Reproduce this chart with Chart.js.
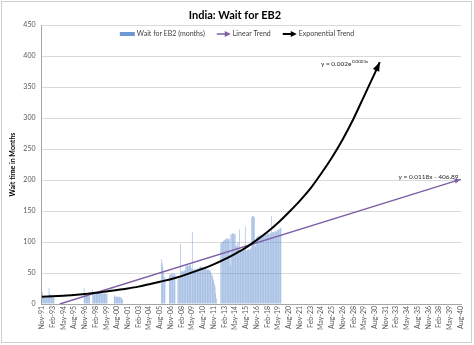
<!DOCTYPE html>
<html><head><meta charset="utf-8">
<script src="https://cdn.jsdelivr.net/npm/chart.js@4/dist/chart.umd.min.js"></script>
<style>html,body{margin:0;padding:0;background:#fff}#wrap{width:474px;height:345px;position:relative}</style>
</head><body><div id="wrap"><canvas id="c" width="474" height="345"></canvas></div>
<script>
// ---------- DATA ----------
const firstMonth = 'Nov-91';
const lastMonth = 'Aug-40';
const tickLabels = ['Nov-91','Feb-93','May-94','Aug-95','Nov-96','Feb-98','May-99','Aug-00','Nov-01','Feb-03',
  'May-04','Aug-05','Nov-06','Feb-08','May-09','Aug-10','Nov-11','Feb-13','May-14','Aug-15',
  'Nov-16','Feb-18','May-19','Aug-20','Nov-21','Feb-23','May-24','Aug-25','Nov-26','Feb-28',
  'May-29','Aug-30','Nov-31','Feb-33','May-34','Aug-35','Nov-36','Feb-38','May-39','Aug-40'];

// Monthly wait (months), starting Nov-91; null = no wait (current)
const waitMonths = [
  21,19,11,10,11,10,10,11,12,11,26,16,15,14,14,13,12,10,
  null,null,null,null,null,null,null,null,null,null,
  null,null,null,null,null,null,null,null,null,null,
  null,null,null,null,null,null,null,null,null,null,
  null,null,null,null,null,null,null,null,null,null,
  null,
  26,15,15,14,14,15,14,13,12,
  null,null,null,
  23,
  18,18,19,18,18,17,18,18,17,18,18,17,17,18,17,17,17,16,17,16,
  null,null,null,null,null,null,null,null,null,
  14,12,12,11,12,12,11,11,12,11,10,8,7,
  null,null,null,null,null,null,null,null,null,null,
  null,null,null,null,null,null,null,null,null,null,
  null,null,null,null,null,null,null,null,null,null,
  null,null,null,null,null,null,null,null,null,null,
  null,null,null,null,null,null,null,null,null,null,
  null,null,null,
  72,66,60,50,44,41,
  null,null,null,null,null,
  46,48,47,49,48,50,47,49,48,
  null,null,null,
  40,41,42,43,97,
  53,54,52,53,54,55,
  60,62,63,62,61,63,64,62,
  58,116,
  56,55,57,56,55,57,56,58,57,59,
  60,61,60,59,60,
  58,57,58,56,57,56,55,56,55,54,
  52,49,46,42,38,33,28,17,9,
  null,null,null,null,null,
  98,99,100,101,102,103,104,105,106,
  105,106,104,105,63,
  112,113,114,113,114,112,113,
  94,93,98,100,90,
  120,
  85,84,86,85,87,86,88,
  125,
  87,86,88,87,89,88,87,90,
  140,142,141,142,140,
  93,98,
  108,109,109,110,110,111,110,111,112,111,112,112,113,112,113,114,113,114,113,114,115,
  142,116,
  115,116,117,116,118,117,119,118,120,121,122,123
];

// Exponential trend
const expTrendMonths = ['Nov-91','Feb-93','May-94','Aug-95','Nov-96','Feb-98','May-99','Aug-00','Nov-01','Feb-03',
  'May-04','Aug-05','Nov-06','Feb-08','May-09','Aug-10','Nov-11','Feb-13','May-14','Aug-15',
  'Nov-16','Feb-18','May-19','Aug-20','Nov-21','Feb-23','May-24','Aug-25','Nov-26','Feb-28',
  'May-29','Aug-30','Mar-31'];
const expTrendValues = [11.5,12.5,13.5,14.5,16,18,20,22.5,25,28,
  32,36,40,45,51,57,64,72,81,91,
  103,116,131,148,166,186,210,236,265,298,
  335,372,390];

// Linear trend
const linTrendMonths = ['Dec-93','Aug-40'];
const linTrendValues = [0, 201];

const expEquation = ['y = 0.002e', '0.0003x'];
const linEquation = 'y = 0.0118x - 406.89';

// ---------- BUILD ----------
const monNames = ['Jan','Feb','Mar','Apr','May','Jun','Jul','Aug','Sep','Oct','Nov','Dec'];
function parseLab(l){ const [m,y]=l.split('-'); return {m:monNames.indexOf(m), y:2000+ +y - (+y>50?100:0)}; }
const categories = [];
(function(){ let s=parseLab(firstMonth), e=parseLab(lastMonth); let y=s.y, m=s.m;
  while (y<e.y || (y===e.y && m<=e.m)) { categories.push(monNames[m]+'-'+String(y%100).padStart(2,'0')); m++; if(m>11){m=0;y++;} } })();
const tickSet = new Set(tickLabels);
const barData = categories.map((c,i)=> i<waitMonths.length ? waitMonths[i] : null);
function sparse(months, vals){ const a = categories.map(()=>null); months.forEach((m,i)=>{ a[categories.indexOf(m)] = vals[i]; }); return a; }
const expData = sparse(expTrendMonths, expTrendValues);
const linData = sparse(linTrendMonths, linTrendValues);

const FONT = 'Lato, "Open Sans", "Liberation Sans", sans-serif';
const PURPLE = '#7d60a6';
const BLUE = '#6f98d3';

const bgPlugin = {
  id:'bg',
  beforeDraw(chart){ const c=chart.ctx; c.save(); c.fillStyle='#fff'; c.fillRect(0,0,chart.width,chart.height);
    c.strokeStyle='#cfcfcf'; c.lineWidth=1; c.strokeRect(1.5,1.5,chart.width-4,chart.height-4); c.restore(); }
};

function arrowHead(c, tipX, tipY, fromX, fromY, len, wid, color){
  const ang = Math.atan2(tipY-fromY, tipX-fromX);
  c.save(); c.translate(tipX, tipY); c.rotate(ang);
  c.beginPath(); c.moveTo(0,0); c.lineTo(-len, wid/2); c.lineTo(-len, -wid/2); c.closePath();
  c.fillStyle=color; c.fill(); c.restore();
}

const arrowPlugin = {
  id:'arrows',
  afterDatasetsDraw(chart){
    const c=chart.ctx;
    [[0,'#000',9,7],[1,PURPLE,6,5]].forEach(([di,color,len,wid])=>{
      const pts = chart.getDatasetMeta(di).data.filter(p=>!p.skip);
      const b = pts[pts.length-1], a = pts[pts.length-2];
      let fx=a.x, fy=a.y;
      if (b.cp1x!==undefined && (Math.abs(b.cp1x-b.x)+Math.abs(b.cp1y-b.y))>0.5){ fx=b.cp1x; fy=b.cp1y; }
      arrowHead(c, b.x, b.y, fx, fy, len, wid, color);
    });
  }
};

const textPlugin = {
  id:'texts',
  afterDraw(chart){
    const c=chart.ctx; c.save();
    // legend
    const items=[{t:'Wait for EB2 (months)',k:'rect',col:BLUE},{t:'Linear Trend',k:'arrow',col:PURPLE},{t:'Exponential Trend',k:'arrow',col:'#000'}];
    c.font='7px '+FONT; c.textBaseline='middle'; c.textAlign='left';
    const sym=15, gap1=2, gap2=11;
    let total=0; items.forEach((it,i)=>{ total+=sym+gap1+c.measureText(it.t).width+(i<items.length-1?gap2:0); });
    let x = 237 - total/2; const y = 34;
    items.forEach(it=>{
      if(it.k==='rect'){ c.fillStyle=it.col; c.fillRect(x, y-2, sym, 4); }
      else { c.strokeStyle=it.col; c.lineWidth= it.col==='#000'?2:1.5; c.beginPath(); c.moveTo(x+1,y); c.lineTo(x+sym-5,y); c.stroke(); arrowHead(c, x+sym, y, x, y, 6, 6, it.col); }
      x += sym+gap1;
      c.fillStyle='#404040'; c.fillText(it.t, x, y);
      x += c.measureText(it.t).width + gap2;
    });
    // equations
    const eMeta = chart.getDatasetMeta(0).data.filter(p=>!p.skip); const eTip = eMeta[eMeta.length-1];
    const lMeta = chart.getDatasetMeta(1).data.filter(p=>!p.skip); const lTip = lMeta[lMeta.length-1];
    c.fillStyle='#262626';
    c.font='6.5px '+FONT; const w1=c.measureText(expEquation[0]).width;
    c.font='4.5px '+FONT; const w2=c.measureText(expEquation[1]).width;
    let ex = eTip.x - 12 - w1 - w2, ey = eTip.y + 2;
    c.font='6.5px '+FONT; c.textBaseline='middle'; c.fillText(expEquation[0], ex, ey);
    c.font='4.5px '+FONT; c.fillText(expEquation[1], ex+w1+0.5, ey-2.5);
    c.font='6.5px '+FONT; c.textAlign='right'; c.fillText(linEquation, lTip.x - 2, lTip.y - 2);
    c.restore();
  }
};

new Chart(document.getElementById('c'), {
  type:'bar',
  data:{ labels:categories, datasets:[
    {type:'line', label:'Exponential Trend', data:expData, borderColor:'#000', borderWidth:2, pointRadius:0, spanGaps:true, cubicInterpolationMode:'monotone', order:1},
    {type:'line', label:'Linear Trend', data:linData, borderColor:PURPLE, borderWidth:1.5, pointRadius:0, spanGaps:true, tension:0, order:2},
    {type:'bar', label:'Wait for EB2 (months)', data:barData, backgroundColor:BLUE, barPercentage:1, categoryPercentage:0.6, order:3}
  ]},
  options:{
    responsive:false, animation:false, devicePixelRatio:1,
    layout:{padding:{left:9,right:13,top:0,bottom:0}},
    plugins:{ legend:{display:false}, tooltip:{enabled:false},
      title:{display:true, text:'India: Wait for EB2', color:'#000', font:{family:FONT,size:11,weight:'bold'}, padding:{top:9,bottom:2.8}} },
    scales:{
      x:{ grid:{display:false, drawTicks:false}, border:{display:true,color:'#a6a6a6'},
        ticks:{autoSkip:false, maxRotation:90, minRotation:90, padding:2, color:'#595959', font:{family:FONT,size:7},
          callback:function(v,i){ const l=categories[i]; return tickSet.has(l)?l:''; } },
        afterFit:s=>{ s.height=41; } },
      y:{ min:0, max:450, ticks:{stepSize:50, padding:6, color:'#595959', font:{family:FONT,size:7}},
        grid:{color:'#d9d9d9', drawTicks:false}, border:{display:true,color:'#a6a6a6'},
        title:{display:true, text:'Wait time in Months', color:'#000', font:{family:FONT,size:7,weight:'bold'}, padding:0},
        afterFit:s=>{ s.width=32.5; } }
    }
  },
  plugins:[bgPlugin, arrowPlugin, textPlugin]
});
</script></body></html>
